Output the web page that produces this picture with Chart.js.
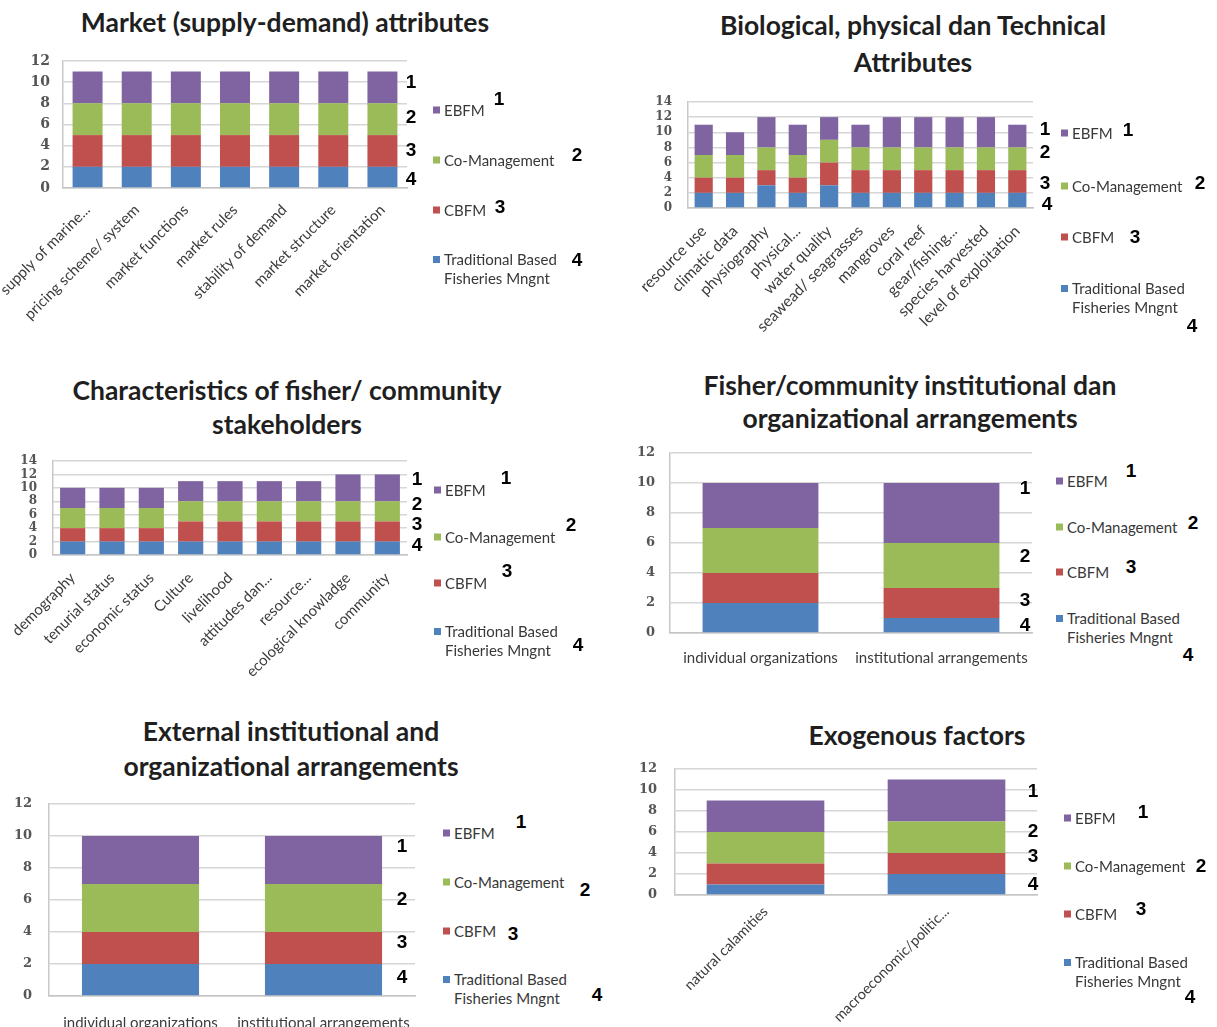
<!DOCTYPE html>
<html>
<head>
<meta charset="utf-8">
<script src="https://cdn.jsdelivr.net/npm/chart.js@4/dist/chart.umd.min.js"></script>
<style>
  body { margin: 0; background: #fff; width: 1217px; height: 1027px; overflow: hidden; position: relative; font-family: Lato, "Open Sans", sans-serif; }
  canvas { position: absolute; }
  .t { position: absolute; transform: translate(-50%, -50%); white-space: nowrap; font-weight: 700; font-size: 26.5px; color: #1f1f1f; }
  .n { position: absolute; transform: translate(-50%, -50%); font-family: "Liberation Sans", Arial, sans-serif; font-weight: 700; font-size: 19px; color: #000; }
  .lg { position: absolute; font-size: 15px; color: #383838; line-height: 19px; white-space: nowrap; padding-left: 11px; transform: translateY(-50%); }
  .lg i { position: absolute; left: 0; top: 6px; width: 7px; height: 7px; }
</style>
</head>
<body>
<script>
// Series (bottom to top of each stack)
const seriesNames = ['Traditional Based Fisheries Mngnt', 'CBFM', 'Co-Management', 'EBFM'];
const seriesColors = ['#4F81BD', '#C0504D', '#9BBB59', '#8064A2'];

// Market (supply-demand) attributes
const marketLabels = ['supply of marine...', 'pricing scheme/ system', 'market functions', 'market rules', 'stability of demand', 'market structure', 'market orientation'];
const marketTraditional = [2, 2, 2, 2, 2, 2, 2];
const marketCBFM = [3, 3, 3, 3, 3, 3, 3];
const marketCoManagement = [3, 3, 3, 3, 3, 3, 3];
const marketEBFM = [3, 3, 3, 3, 3, 3, 3];

// Biological, physical dan Technical Attributes
const bioLabels = ['resource use', 'climatic data', 'physiography', 'physical...', 'water quality', 'seawead/ seagrasses', 'mangroves', 'coral reef', 'gear/fishing...', 'species harvested', 'level of exploitation'];
const bioTraditional = [2, 2, 3, 2, 3, 2, 2, 2, 2, 2, 2];
const bioCBFM = [2, 2, 2, 2, 3, 3, 3, 3, 3, 3, 3];
const bioCoManagement = [3, 3, 3, 3, 3, 3, 3, 3, 3, 3, 3];
const bioEBFM = [4, 3, 4, 4, 3, 3, 4, 4, 4, 4, 3];

// Characteristics of fisher/ community stakeholders
const fisherLabels = ['demography', 'tenurial status', 'economic status', 'Culture', 'livelihood', 'attitudes dan...', 'resource...', 'ecological knowladge', 'community'];
const fisherTraditional = [2, 2, 2, 2, 2, 2, 2, 2, 2];
const fisherCBFM = [2, 2, 2, 3, 3, 3, 3, 3, 3];
const fisherCoManagement = [3, 3, 3, 3, 3, 3, 3, 3, 3];
const fisherEBFM = [3, 3, 3, 3, 3, 3, 3, 4, 4];

// Fisher/community institutional dan organizational arrangements
const communityLabels = ['individual organizations', 'institutional arrangements'];
const communityTraditional = [2, 1];
const communityCBFM = [2, 2];
const communityCoManagement = [3, 3];
const communityEBFM = [3, 4];

// External institutional and organizational arrangements
const externalLabels = ['individual organizations', 'institutional arrangements'];
const externalTraditional = [2, 2];
const externalCBFM = [2, 2];
const externalCoManagement = [3, 3];
const externalEBFM = [3, 3];

// Exogenous factors
const exoLabels = ['natural calamities', 'macroeconomic/politic...'];
const exoTraditional = [1, 2];
const exoCBFM = [2, 2];
const exoCoManagement = [3, 3];
const exoEBFM = [3, 4];

// Axis maxima
const marketMax = 12, bioMax = 14, fisherMax = 14, communityMax = 12, externalMax = 12, exoMax = 12;

const Y_AXIS_W = 40;

function addEl(cls, html, css) {
  const d = document.createElement('div');
  d.className = cls;
  d.innerHTML = html;
  Object.assign(d.style, css);
  document.body.appendChild(d);
  return d;
}

function stackedChart(p) {
  const c = document.createElement('canvas');
  c.width = p.canvas.w; c.height = p.canvas.h;
  c.style.left = p.canvas.x + 'px'; c.style.top = p.canvas.y + 'px';
  document.body.appendChild(c);
  // the x scale reaches the canvas bottom so its rotated labels are not clipped
  const xAxisH = p.canvas.y + p.canvas.h - p.plot.b;
  const pad = {
    left: p.plot.l - p.canvas.x - Y_AXIS_W,
    top: p.plot.t - p.canvas.y,
    right: p.canvas.x + p.canvas.w - p.plot.r,
    bottom: 0
  };
  new Chart(c, {
    type: 'bar',
    data: {
      labels: p.labels,
      datasets: p.series.map((vals, i) => ({
        label: seriesNames[i], data: vals, backgroundColor: seriesColors[i],
        borderWidth: 0, barPercentage: 1, categoryPercentage: p.barFrac
      }))
    },
    options: {
      responsive: false, animation: false, devicePixelRatio: 1,
      layout: { padding: pad },
      plugins: { legend: { display: false }, tooltip: { enabled: false } },
      scales: {
        x: {
          stacked: true,
          grid: { display: false },
          border: { display: true, color: '#c4c4c4', width: 1.5 },
          ticks: {
            autoSkip: false, minRotation: p.rot, maxRotation: p.rot, padding: p.xPad,
            color: '#3c3c3c', font: { family: 'Lato', size: p.xFont }
          },
          afterFit: s => { s.height = xAxisH; s.paddingLeft = 0; s.paddingRight = 0; }
        },
        y: {
          stacked: true, min: 0, max: p.max,
          grid: { color: '#d6d6d6', lineWidth: 1.5, drawTicks: false },
          border: { display: true, color: '#c8c8c8', width: 1.5 },
          ticks: {
            stepSize: 2, autoSkip: false, padding: p.yPad, color: '#555',
            font: { family: 'DejaVu Serif', size: p.yFont, weight: 'bold' }
          },
          afterFit: s => { s.width = Y_AXIS_W; s.paddingTop = 0; s.paddingBottom = 0; }
        }
      }
    }
  });
  // titles
  p.title.forEach(([txt, x, y]) => addEl('t', txt, { left: x + 'px', top: y + 'px' }));
  // stack segment numbers beside the plot
  p.nums.forEach(([txt, x, y]) => addEl('n', txt, { left: x + 'px', top: y + 'px' }));
  // legend (top series first)
  const order = [3, 2, 1, 0];
  const legendText = ['Traditional Based<br>Fisheries Mngnt', 'CBFM', 'Co-Management', 'EBFM'];
  order.forEach((si, k) => {
    const [x, y] = p.legend[k];
    const el = addEl('lg', '<i style="background:' + seriesColors[si] + '"></i>' + legendText[si],
      { left: x + 'px', top: y + 'px' });
    if (si === 0) { el.style.transform = 'translateY(-9px)'; }
  });
  p.legendNums.forEach(([txt, x, y]) => addEl('n', txt, { left: x + 'px', top: y + 'px' }));
}

stackedChart({
  labels: marketLabels,
  series: [marketTraditional, marketCBFM, marketCoManagement, marketEBFM],
  max: marketMax, barFrac: 0.61, rot: 45, xFont: 15, xPad: 5, yFont: 14, yPad: 13,
  canvas: { x: 0, y: 45, w: 425, h: 300 }, plot: { l: 63, r: 407, t: 61, b: 188 },
  title: [['Market (supply-demand) attributes', 285, 22]],
  nums: [['1', 411, 82], ['2', 411, 117], ['3', 411, 150], ['4', 411, 179]],
  legend: [[433, 110], [433, 160], [433, 210], [433, 259]],
  legendNums: [['1', 499, 99], ['2', 577, 155], ['3', 500, 207], ['4', 577, 260]]
});

stackedChart({
  labels: bioLabels,
  series: [bioTraditional, bioCBFM, bioCoManagement, bioEBFM],
  max: bioMax, barFrac: 0.58, rot: 45, xFont: 15.5, xPad: 6, yFont: 12, yPad: 16,
  canvas: { x: 620, y: 90, w: 425, h: 260 }, plot: { l: 688, r: 1033, t: 102, b: 208 },
  title: [['Biological, physical dan Technical', 913, 25], ['Attributes', 913, 62]],
  nums: [['1', 1045, 129], ['2', 1045, 152], ['3', 1045, 183], ['4', 1047, 204]],
  legend: [[1061, 133], [1061, 186], [1061, 237], [1061, 288]],
  legendNums: [['1', 1128, 130], ['2', 1200, 183], ['3', 1135, 237], ['4', 1192, 326]]
});

stackedChart({
  labels: fisherLabels,
  series: [fisherTraditional, fisherCBFM, fisherCoManagement, fisherEBFM],
  max: fisherMax, barFrac: 0.64, rot: 45, xFont: 15, xPad: 6, yFont: 12, yPad: 16,
  canvas: { x: 0, y: 450, w: 425, h: 230 }, plot: { l: 53, r: 407, t: 461, b: 555 },
  title: [['Characteristics of fisher/ community', 287, 390], ['stakeholders', 287, 424]],
  nums: [['1', 417, 479], ['2', 417, 504], ['3', 417, 524], ['4', 417, 545]],
  legend: [[434, 490], [434, 537], [434, 583], [434, 631]],
  legendNums: [['1', 506, 478], ['2', 571, 525], ['3', 507, 571], ['4', 578, 645]]
});

stackedChart({
  labels: communityLabels,
  series: [communityTraditional, communityCBFM, communityCoManagement, communityEBFM],
  max: communityMax, barFrac: 0.64, rot: 0, xFont: 15, xPad: 8, yFont: 13, yPad: 15,
  canvas: { x: 630, y: 440, w: 410, h: 240 }, plot: { l: 670, r: 1032, t: 453, b: 633 },
  title: [['Fisher/community institutional dan', 910, 385], ['organizational arrangements', 910, 418]],
  nums: [['1', 1025, 488], ['2', 1025, 556], ['3', 1025, 600], ['4', 1025, 625]],
  legend: [[1056, 481], [1056, 527], [1056, 572], [1056, 618]],
  legendNums: [['1', 1131, 471], ['2', 1193, 523], ['3', 1131, 567], ['4', 1188, 655]]
});

stackedChart({
  labels: externalLabels,
  series: [externalTraditional, externalCBFM, externalCoManagement, externalEBFM],
  max: externalMax, barFrac: 0.64, rot: 0, xFont: 15, xPad: 10, yFont: 13, yPad: 17,
  canvas: { x: 0, y: 795, w: 430, h: 232 }, plot: { l: 49, r: 415, t: 804, b: 996 },
  title: [['External institutional  and', 291, 731], ['organizational arrangements', 291, 766]],
  nums: [['1', 402, 846], ['2', 402, 899], ['3', 402, 942], ['4', 402, 977]],
  legend: [[443, 833], [443, 882], [443, 931], [443, 979]],
  legendNums: [['1', 521, 822], ['2', 585, 890], ['3', 513, 934], ['4', 597, 995]]
});

stackedChart({
  labels: exoLabels,
  series: [exoTraditional, exoCBFM, exoCoManagement, exoEBFM],
  max: exoMax, barFrac: 0.65, rot: 45, xFont: 14.5, xPad: 0, yFont: 13, yPad: 18,
  canvas: { x: 630, y: 760, w: 420, h: 267 }, plot: { l: 675, r: 1037, t: 769, b: 895 },
  title: [['Exogenous factors', 917, 735]],
  nums: [['1', 1033, 791], ['2', 1033, 831], ['3', 1033, 856], ['4', 1033, 884]],
  legend: [[1064, 818], [1064, 866], [1064, 914], [1064, 962]],
  legendNums: [['1', 1143, 812], ['2', 1201, 866], ['3', 1141, 909], ['4', 1190, 997]]
});
</script>
</body>
</html>
